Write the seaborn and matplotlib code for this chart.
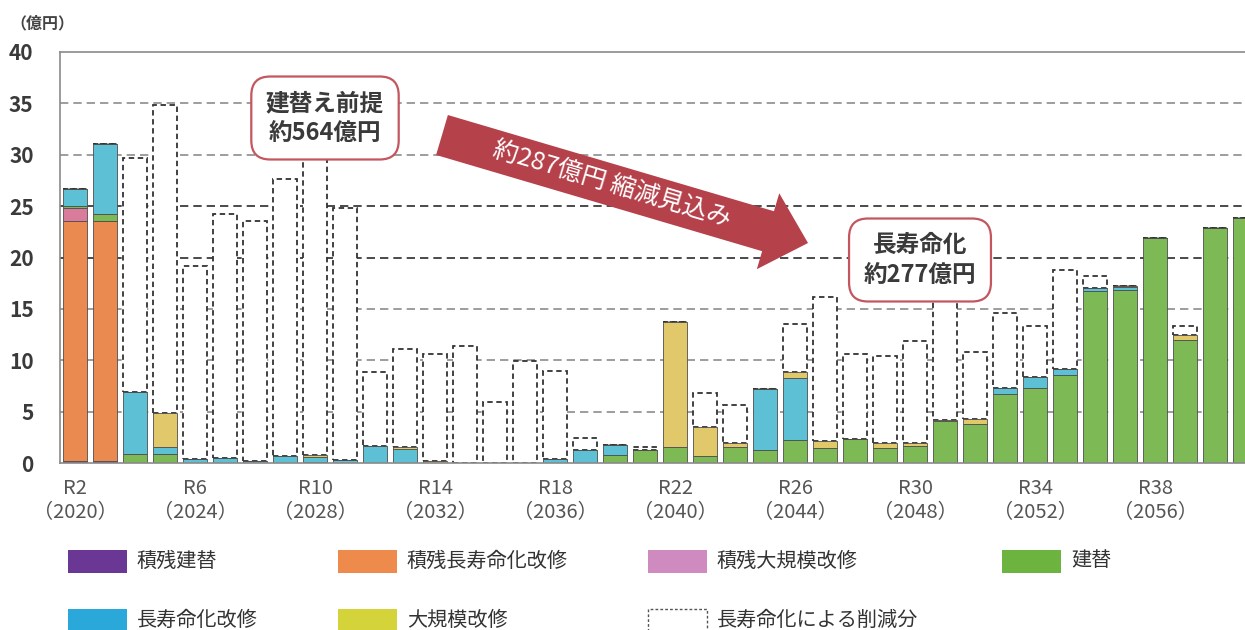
import matplotlib
matplotlib.use('Agg')
import matplotlib.pyplot as plt
from matplotlib.patches import Rectangle
import seaborn as sns

# categories (Reiwa year / western year)
reiwa = ['R2', 'R3', 'R4', 'R5', 'R6', 'R7', 'R8', 'R9', 'R10', 'R11',
         'R12', 'R13', 'R14', 'R15', 'R16', 'R17', 'R18', 'R19', 'R20', 'R21',
         'R22', 'R23', 'R24', 'R25', 'R26', 'R27', 'R28', 'R29', 'R30', 'R31',
         'R32', 'R33', 'R34', 'R35', 'R36', 'R37', 'R38', 'R39', 'R40', 'R41']
years = [2020, 2021, 2022, 2023, 2024, 2025, 2026, 2027, 2028, 2029,
         2030, 2031, 2032, 2033, 2034, 2035, 2036, 2037, 2038, 2039,
         2040, 2041, 2042, 2043, 2044, 2045, 2046, 2047, 2048, 2049,
         2050, 2051, 2052, 2053, 2054, 2055, 2056, 2057, 2058, 2059]

# values (億円), stacked bottom -> top
backlog_rebuild = [0.15, 0.15, 0, 0, 0, 0, 0, 0, 0, 0,
                   0, 0, 0, 0, 0, 0, 0, 0, 0, 0,
                   0, 0, 0, 0, 0, 0, 0, 0, 0, 0,
                   0, 0, 0, 0, 0, 0, 0, 0, 0, 0]
backlog_longlife = [23.4, 23.4, 0, 0, 0, 0, 0, 0, 0, 0,
                    0, 0, 0, 0, 0, 0, 0, 0, 0, 0,
                    0, 0, 0, 0, 0, 0, 0, 0, 0, 0,
                    0, 0, 0, 0, 0, 0, 0, 0, 0, 0]
backlog_major = [1.3, 0, 0, 0, 0, 0, 0, 0, 0, 0,
                 0, 0, 0, 0, 0, 0, 0, 0, 0, 0,
                 0, 0, 0, 0, 0, 0, 0, 0, 0, 0,
                 0, 0, 0, 0, 0, 0, 0, 0, 0, 0]
rebuild = [0.2, 0.7, 0.9, 0.9, 0, 0, 0, 0, 0.1, 0,
           0, 0, 0, 0, 0, 0, 0, 0, 0.8, 1.3,
           1.6, 0.7, 1.6, 1.3, 2.2, 1.5, 2.3, 1.5, 1.7, 4.1,
           3.8, 6.7, 7.3, 8.6, 16.7, 16.8, 21.9, 12.0, 22.9, 23.8]
longlife = [1.65, 6.8, 6.0, 0.7, 0.4, 0.5, 0.2, 0.7, 0.5, 0.3,
            1.7, 1.4, 0, 0, 0, 0, 0.4, 1.3, 1.0, 0,
            0, 0, 0, 5.9, 6.1, 0, 0, 0, 0, 0,
            0, 0.6, 1.1, 0.5, 0.3, 0.3, 0, 0, 0, 0]
major = [0, 0, 0, 3.3, 0, 0, 0, 0, 0.2, 0,
         0, 0.2, 0.2, 0, 0, 0, 0, 0, 0, 0,
         12.1, 2.8, 0.3, 0, 0.6, 0.6, 0, 0.4, 0.2, 0.1,
         0.5, 0, 0, 0, 0, 0.1, 0, 0.5, 0, 0]
reduction = [0, 0, 22.8, 29.9, 18.8, 23.7, 23.4, 26.9, 31.2, 24.5,
             7.2, 9.5, 10.4, 11.4, 5.9, 9.9, 8.6, 1.1, 0, 0.3,
             0, 3.3, 3.7, 0, 4.6, 14.1, 8.3, 8.5, 10.0, 14.8,
             6.5, 7.3, 4.9, 9.7, 1.2, 0, 0, 0.8, 0, 0]

layers = [
    ('積残建替', backlog_rebuild, '#6B3795', '#6B3795'),
    ('積残長寿命化改修', backlog_longlife, '#EA8A50', '#EE8A4B'),
    ('積残大規模改修', backlog_major, '#D97C9C', '#CF8AC0'),
    ('建替', rebuild, '#7DB955', '#6DB33F'),
    ('長寿命化改修', longlife, '#5EC0D4', '#2AA8DA'),
    ('大規模改修', major, '#E1C96B', '#D4D43A'),
]

sns.set_theme(style='white')
plt.rcParams['font.family'] = ['Noto Sans CJK JP', 'DejaVu Sans']

W, H = 1245, 630
fig = plt.figure(figsize=(W / 100, H / 100), dpi=100)
ax = fig.add_axes([60 / W, 167 / H, 1185 / W, 411 / H])

# cumulative bottoms
bottoms = []
run = [0.0] * len(reiwa)
for _, vals, _, _ in layers:
    bottoms.append(list(run))
    run = [a + b for a, b in zip(run, vals)]
colored_top = run

# reduction (dashed white) drawn first so the coloured edges sit on top
sns.barplot(x=reiwa, y=reduction, order=reiwa, bottom=colored_top, ax=ax,
            color='white', saturation=1, width=0.77, errorbar=None,
            edgecolor='#333333', linewidth=1.3, linestyle=(0, (3, 2)))

for (name, vals, col, _), bot in zip(layers, bottoms):
    sns.barplot(x=reiwa, y=vals, order=reiwa, bottom=bot, ax=ax,
                color=col, saturation=1, width=0.77, errorbar=None,
                edgecolor='#4d4d4d', linewidth=0.6)

ax.set_xlim(-0.5, 39.0)
ax.set_ylim(0, 40)
ax.set_yticks(range(0, 41, 5))
ax.set_axisbelow(True)
ax.yaxis.grid(True, linestyle=(0, (5, 3)), linewidth=1.2, color='#8c8c8c')
for val, gl in zip(range(0, 41, 5), ax.get_ygridlines()):
    if val in (0, 40):
        gl.set_visible(False)
    elif val in (20, 25):
        gl.set_color('#2b2b2b')
ax.xaxis.grid(False)

tick_pos = list(range(0, len(reiwa), 4))
ax.set_xticks(tick_pos)
ax.set_xticklabels([f'{reiwa[i]}\n（{years[i]}）' for i in tick_pos],
                   fontsize=14.5, color='#555555', linespacing=1.15)
ax.tick_params(axis='x', length=0, pad=11)
ax.tick_params(axis='y', length=0, pad=19, labelsize=15, labelcolor='#3a3a3a')
for lab in ax.get_yticklabels():
    lab.set_fontweight('bold')
ax.set_xlabel('')
ax.set_ylabel('')

for side in ('left', 'top', 'bottom'):
    ax.spines[side].set_color('#8a8a8a')
    ax.spines[side].set_linewidth(1.2)
ax.spines['right'].set_visible(False)

fig.text(10 / W, 1 - 23 / H, '（億円）', fontsize=11.5, fontweight='bold',
         color='#444444', ha='left', va='center')

# annotation boxes
box_kw = dict(boxstyle='round,pad=0.62,rounding_size=0.8', fc='white',
              ec='#C4565F', lw=1.6)
fig.text(325 / W, 1 - 118 / H, '建替え前提\n約564億円', ha='center', va='center',
         fontsize=17, fontweight='bold', color='#3a3a3a', linespacing=1.3,
         bbox=box_kw)
fig.text(920 / W, 1 - 260 / H, '長寿命化\n約277億円', ha='center', va='center',
         fontsize=17, fontweight='bold', color='#3a3a3a', linespacing=1.3,
         bbox=box_kw)

# reduction arrow
ax.annotate('', xy=(808, H - 243), xytext=(442, H - 135),
            xycoords='figure pixels', textcoords='figure pixels',
            arrowprops=dict(arrowstyle='simple,head_length=1.0,head_width=1.9,tail_width=1.0',
                            mutation_scale=30, fc='#B5414B', ec='none',
                            shrinkA=0, shrinkB=0))
fig.text(612 / W, 1 - 184 / H, '約287億円 縮減見込み', rotation=-16.5,
         rotation_mode='anchor', ha='center', va='center', color='white',
         fontsize=18)

# legend
legend_rows = [
    [(68, 0), (338, 1), (648, 2), (1002, 3)],
    [(68, 4), (338, 5), (648, None)],
]
for row_y, row in zip((561, 620), legend_rows):
    for lx, idx in row:
        if idx is None:
            patch = Rectangle((lx / W, 1 - (row_y + 11.5) / H), 59 / W, 23 / H,
                              transform=fig.transFigure, fc='white', ec='#555555',
                              lw=1.0, ls=(0, (2, 1.5)))
            label = '長寿命化による削減分'
        else:
            patch = Rectangle((lx / W, 1 - (row_y + 11.5) / H), 59 / W, 23 / H,
                              transform=fig.transFigure, fc=layers[idx][3], ec='none')
            label = layers[idx][0]
        fig.add_artist(patch)
        fig.text((lx + 69) / W, 1 - row_y / H, label, ha='left', va='center',
                 fontsize=14.5, color='#333333')

fig.savefig('out.png', dpi=100)
